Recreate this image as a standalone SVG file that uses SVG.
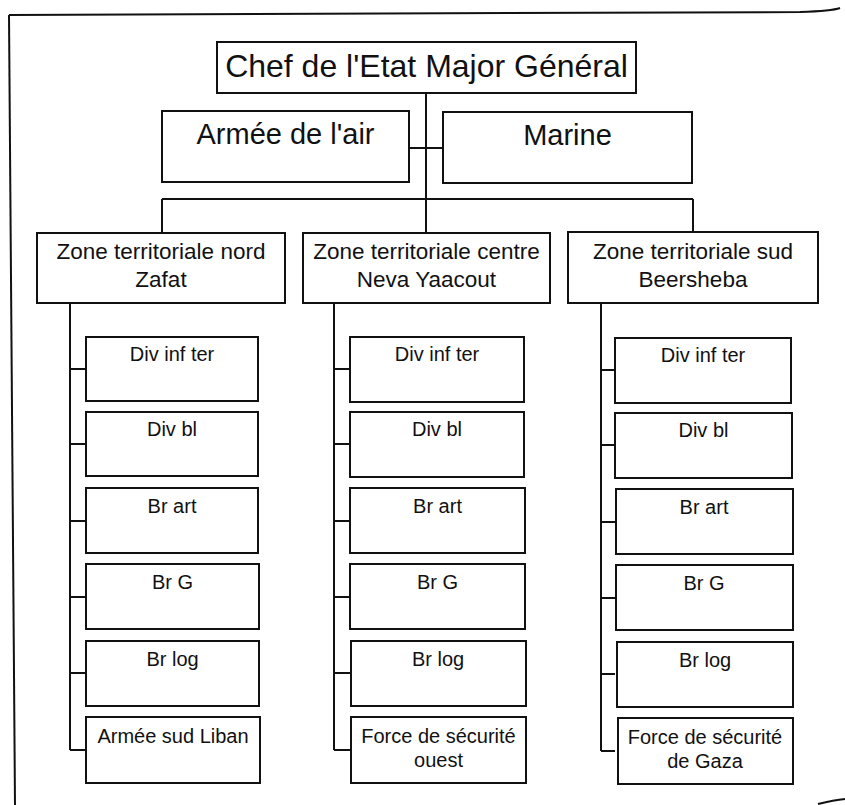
<svg xmlns="http://www.w3.org/2000/svg" width="845" height="805" viewBox="0 0 845 805">
<style>
.box{fill:#fff;stroke:#111;stroke-width:2}
.ln{fill:none;stroke:#111;stroke-width:2}
text{font-family:"Liberation Sans",Arial,sans-serif;fill:#111;text-anchor:middle}
.t1{font-size:32px}
.t2{font-size:29px}
.t3{font-size:22.5px}
.t4{font-size:20px}
</style>
<rect width="845" height="805" fill="#fff"/>
<g id="frame">
<path class="ln" d="M9,15 L800,12 Q832,11 840,8"/>
<path class="ln" d="M9,15 L15,805"/>
<path class="ln" d="M818,804 Q834,800 845,799" stroke-width="3"/>
</g>
<g id="connectors">
<path class="ln" d="M426,93 V233 M409,148 H443 M162,199 H693 M162,199 V232 M693,199 V232"/>
<path class="ln" d="M70,303 V750 M70,369 H86 M70,444 H86 M70,521 H86 M70,597 H86 M70,673 H86 M70,750 H86"/>
<path class="ln" d="M334,303 V750 M334,369 H350 M334,444 H350 M334,521 H350 M334,597 H350 M334,673 H350 M334,750 H350"/>
<path class="ln" d="M601,303 V751 M601,370 H615 M601,445 H615 M601,522 H615 M601,598 H615 M601,674 H615 M601,751 H615"/>
</g>
<g id="chef"><rect class="box" x="217" y="42" width="419" height="51"/><text class="t1" x="426.5" y="77">Chef de l'Etat Major Général</text></g>
<g id="air"><rect class="box" x="162" y="111" width="247" height="71"/><text class="t2" x="285.5" y="144">Armée de l'air</text></g>
<g id="marine"><rect class="box" x="443" y="112" width="249" height="71"/><text class="t2" x="567.5" y="145">Marine</text></g>

<g id="zone-nord"><rect class="box" x="37" y="233" width="248" height="70"/><text class="t3" x="161" y="259">Zone territoriale nord</text><text class="t3" x="161" y="287">Zafat</text></g>
<g id="zone-centre"><rect class="box" x="303" y="233" width="247" height="70"/><text class="t3" x="426.5" y="259">Zone territoriale centre</text><text class="t3" x="426.5" y="287">Neva Yaacout</text></g>
<g id="zone-sud"><rect class="box" x="568" y="232" width="250" height="71"/><text class="t3" x="693" y="259">Zone territoriale sud</text><text class="t3" x="693" y="287">Beersheba</text></g>

<g id="n1"><rect class="box" x="86" y="337" width="172" height="64"/><text class="t4" x="172" y="361">Div inf ter</text></g>
<g id="n2"><rect class="box" x="86" y="412" width="172" height="64"/><text class="t4" x="172" y="436">Div bl</text></g>
<g id="n3"><rect class="box" x="86" y="488" width="172" height="65"/><text class="t4" x="172" y="513">Br art</text></g>
<g id="n4"><rect class="box" x="86" y="564" width="173" height="65"/><text class="t4" x="172.5" y="589">Br G</text></g>
<g id="n5"><rect class="box" x="86" y="641" width="173" height="65"/><text class="t4" x="172.5" y="666">Br log</text></g>
<g id="n6"><rect class="box" x="86" y="717" width="174" height="66"/><text class="t4" x="173" y="743">Armée sud Liban</text></g>

<g id="c1"><rect class="box" x="350" y="337" width="174" height="65"/><text class="t4" x="437" y="361">Div inf ter</text></g>
<g id="c2"><rect class="box" x="350" y="412" width="174" height="65"/><text class="t4" x="437" y="436">Div bl</text></g>
<g id="c3"><rect class="box" x="350" y="488" width="175" height="65"/><text class="t4" x="437.5" y="513">Br art</text></g>
<g id="c4"><rect class="box" x="350" y="564" width="175" height="65"/><text class="t4" x="437.5" y="589">Br G</text></g>
<g id="c5"><rect class="box" x="351" y="641" width="175" height="65"/><text class="t4" x="438" y="666">Br log</text></g>
<g id="c6"><rect class="box" x="351" y="717" width="175" height="66"/><text class="t4" x="438.5" y="743">Force de sécurité</text><text class="t4" x="438.5" y="767">ouest</text></g>

<g id="s1"><rect class="box" x="615" y="338" width="176" height="65"/><text class="t4" x="703" y="362">Div inf ter</text></g>
<g id="s2"><rect class="box" x="615" y="413" width="177" height="65"/><text class="t4" x="703.5" y="437">Div bl</text></g>
<g id="s3"><rect class="box" x="616" y="489" width="177" height="65"/><text class="t4" x="704" y="514">Br art</text></g>
<g id="s4"><rect class="box" x="616" y="565" width="177" height="65"/><text class="t4" x="704" y="590">Br G</text></g>
<g id="s5"><rect class="box" x="617" y="642" width="176" height="65"/><text class="t4" x="705" y="667">Br log</text></g>
<g id="s6"><rect class="box" x="618" y="718" width="175" height="66"/><text class="t4" x="705" y="744">Force de sécurité</text><text class="t4" x="705" y="768">de Gaza</text></g>
</svg>
